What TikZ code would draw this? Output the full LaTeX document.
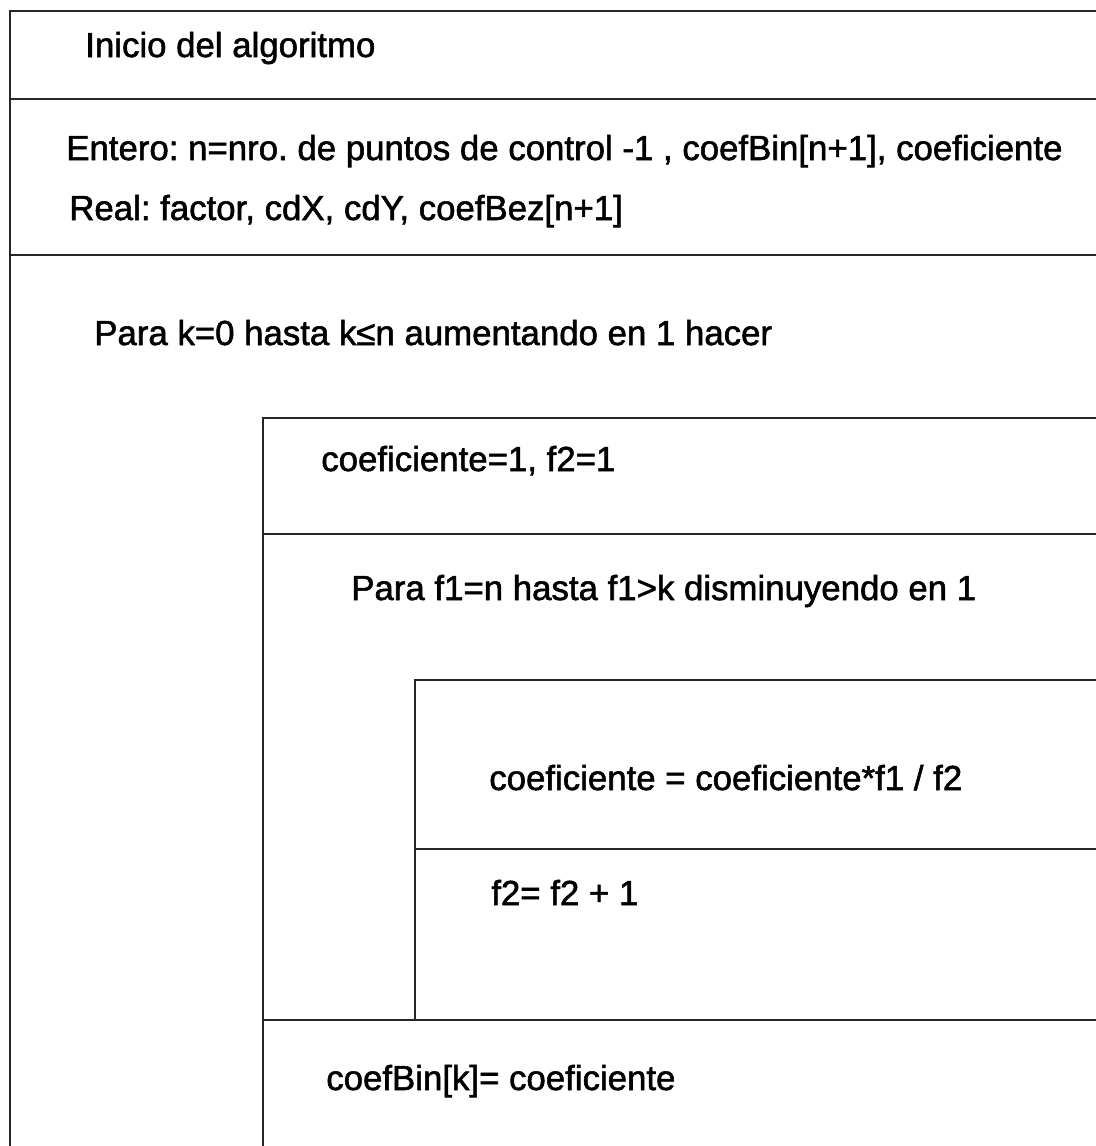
\documentclass[tikz,border=0pt]{standalone}
\usepackage{fontspec}
\setmainfont{Liberation Sans}[FakeBold=1.6]
\frenchspacing
\begin{document}
\begin{tikzpicture}[x=0.5pt, y=-0.5pt, line width=1.3pt, draw=black!85,
  font=\fontsize{17.4}{20}\selectfont, txt/.style={anchor=base west, inner sep=0pt},
  declare function={R=1096;}]
\useasboundingbox (0,0) rectangle (R,1146);
\path (10,11) coordinate (O) (263,418) coordinate (A) (415,680) coordinate (B);
% bloque principal
\draw (R,11) -- (O) -- (10,1146);
\foreach \y in {99,255}{
\draw (10,\y) -- (R,\y);
}
% ciclo k
\draw (R,418) -- (A) -- (263,1146);
\foreach \y in {534,1020}{
\draw (263,\y) -- (R,\y);
}
% ciclo f1
\draw (R,680) -- (B) -- (415,1020);
\draw (415,849) -- (R,849);
% textos
\node[txt] (inicio) at (84,57) {Inicio del algoritmo};
\node[txt] (entero) at (65,160) {Entero: n=nro. de puntos de control -1 , coefBin[n+1], coeficiente};
\node[txt] (real) at (68,220) {Real: factor, cdX, cdY, coefBez[n+1]};
\node[txt] (parak) at (93,345) {Para k=0 hasta k≤n aumentando en 1 hacer};
\node[txt] (coefini) at (320,471) {coeficiente=1, f2=1};
\node[txt] (paraf) at (350,600) {Para f1=n hasta f1>k disminuyendo en 1};
\node[txt] (coefcalc) at (488,790) {coeficiente = coeficiente*f1 / f2};
\node[txt] (incf) at (490,905) {f2= f2 + 1};
\node[txt] (coefbin) at (325,1090) {coefBin[k]= coeficiente};
\end{tikzpicture}
\end{document}
